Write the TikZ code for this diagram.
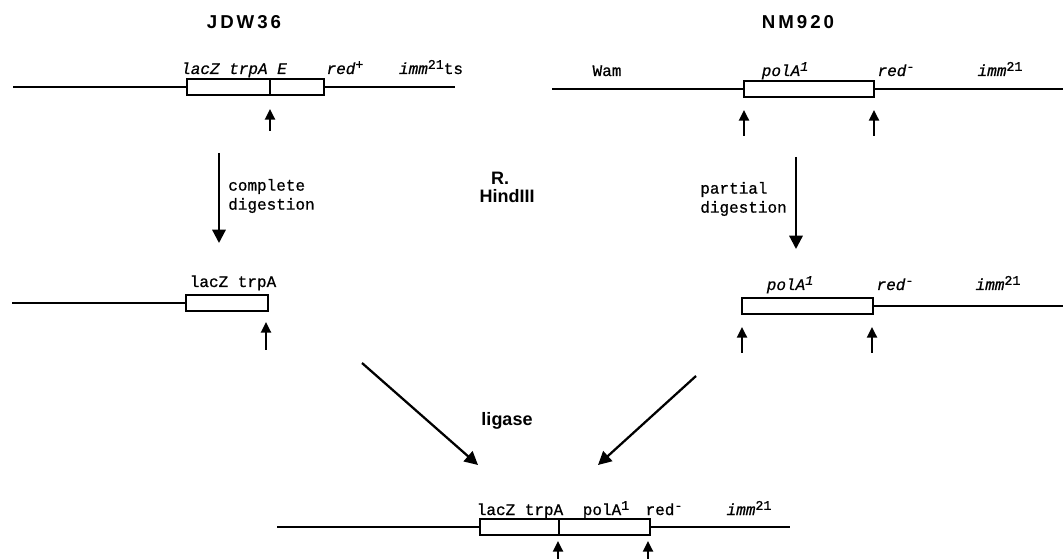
\documentclass[tikz,border=0pt]{standalone}
\usepackage{fontspec}
\setmainfont{Liberation Serif}
\setmonofont[FakeBold=0.8]{Liberation Mono}
\newfontfamily\hsans{Liberation Sans}
\newfontfamily\titlefont[LetterSpace=16]{Liberation Sans}
\newcommand\sups[1]{\raisebox{0.6ex}{\fontsize{10}{10}\selectfont #1}}
\usetikzlibrary{arrows.meta}
\begin{document}
\begin{tikzpicture}[x=0.75pt,y=-0.75pt,
  dna/.style={line width=1.5pt},
  gene/.style={draw,line width=1.6pt,inner sep=0pt,minimum height=12pt},
  cutarrow/.style={line width=1.7pt,-{Triangle[width=7.5pt,length=8pt]}},
  steparrow/.style={line width=1.7pt,-{Triangle[width=10pt,length=10pt]}},
  lab/.style={inner sep=0pt,anchor=base,font=\ttfamily\fontsize{12}{14}\selectfont},
  ilab/.style={inner sep=0pt,anchor=base,font=\ttfamily\itshape\fontsize{12}{14}\selectfont},
  note/.style={inner sep=0pt,font=\ttfamily\fontsize{12}{14.25}\selectfont,align=left},
  ttl/.style={inner sep=0pt,font=\titlefont\bfseries\fontsize{14}{16}\selectfont},
  boldlab/.style={inner sep=0pt,font=\hsans\bfseries\fontsize{13.5}{16}\selectfont}]
\useasboundingbox (0,0) rectangle (1063,559);

% titles
\node[ttl] (t1) at (244,22) {JDW36};
\node[ttl] (t2) at (798,22) {NM920};

% ---------- row 1 left: JDW36 ----------
\node[gene,minimum width=62.25pt] (L1a) at (228.5,87) {};
\node[gene,minimum width=40.5pt] (L1b) at (297,87) {};
\coordinate (L1s) at (13,87);
\coordinate (L1e) at (455,87);
\draw[dna] (L1s) -- (L1a.west);
\draw[dna] (L1b.east) -- (L1e);
\coordinate (k1a) at (270,131);
\coordinate (k1b) at (270,109);
\draw[cutarrow] (k1a) -- (k1b);
\node[ilab] (l1) at (234,74) {lacZ trpA E};
\node[ilab] (l2) at (345,74) {red\sups{+}};
\node[lab] (l3) at (431,74) {\textit{imm}\sups{21}ts};

% ---------- row 1 right: NM920 ----------
\node[gene,minimum width=97.5pt] (R1) at (809,89) {};
\coordinate (R1s) at (552,89);
\coordinate (R1e) at (1063,89);
\draw[dna] (R1s) -- (R1.west);
\draw[dna] (R1.east) -- (R1e);
\coordinate (k2a) at (744,136);
\coordinate (k2b) at (744,110);
\coordinate (k3a) at (874,136);
\coordinate (k3b) at (874,110);
\draw[cutarrow] (k2a) -- (k2b);
\draw[cutarrow] (k3a) -- (k3b);
\node[lab] (r1) at (607,76) {Wam};
\node[ilab] (r2) at (785,76) {polA\sups{1}};
\node[ilab] (r3) at (896,76) {red\sups{-}};
\node[ilab] (r4) at (1000,76) {imm{\upshape\sups{21}}};

% ---------- digestion arrows ----------
\coordinate (d1a) at (219,153);
\coordinate (d1b) at (219,243);
\draw[steparrow] (d1a) -- (d1b);
\node[note,anchor=west] (n1) at (228,196) {complete\\digestion};
\coordinate (d2a) at (796,157);
\coordinate (d2b) at (796,249);
\draw[steparrow] (d2a) -- (d2b);
\node[note,anchor=east] (n2) at (787,199) {partial\\digestion};
\node[boldlab] (h1) at (500,178) {R.};
\node[boldlab] (h2) at (507,196) {HindIII};

% ---------- row 2 left ----------
\node[gene,minimum width=61.5pt] (L2) at (227,303) {};
\coordinate (L2s) at (12,303);
\draw[dna] (L2s) -- (L2.west);
\coordinate (k4a) at (266,350);
\coordinate (k4b) at (266,322);
\draw[cutarrow] (k4a) -- (k4b);
\node[lab] (m1) at (233,287) {lacZ trpA};

% ---------- row 2 right ----------
\node[gene,minimum width=98.25pt] (R2) at (807.5,306) {};
\coordinate (R2e) at (1063,306);
\draw[dna] (R2.east) -- (R2e);
\coordinate (k5a) at (742,353);
\coordinate (k5b) at (742,327);
\coordinate (k6a) at (872,353);
\coordinate (k6b) at (872,327);
\draw[cutarrow] (k5a) -- (k5b);
\draw[cutarrow] (k6a) -- (k6b);
\node[ilab] (s1) at (790,290) {polA\sups{1}};
\node[ilab] (s2) at (895,290) {red\sups{-}};
\node[ilab] (s3) at (998,290) {imm{\upshape\sups{21}}};

% ---------- ligase ----------
\coordinate (g1a) at (362,363);
\coordinate (g1b) at (478,465);
\coordinate (g2a) at (696,376);
\coordinate (g2b) at (598,465);
\draw[steparrow] (g1a) -- (g1b);
\draw[steparrow] (g2a) -- (g2b);
\node[boldlab] (lig) at (507,421) {ligase};

% ---------- bottom ----------
\node[gene,minimum width=59.25pt] (Ba) at (519.5,527) {};
\node[gene,minimum width=68.25pt] (Bb) at (604.5,527) {};
\coordinate (Bs) at (277,527);
\coordinate (Be) at (790,527);
\draw[dna] (Bs) -- (Ba.west);
\draw[dna] (Bb.east) -- (Be);
\coordinate (k7a) at (558,560);
\coordinate (k7b) at (558,541);
\coordinate (k8a) at (648,560);
\coordinate (k8b) at (648,541);
\draw[cutarrow] (k7a) -- (k7b);
\draw[cutarrow] (k8a) -- (k8b);
\node[lab] (b1) at (520,515) {lacZ trpA};
\node[lab] (b2) at (606,515) {polA\sups{1}};
\node[lab] (b3) at (664,515) {red\sups{-}};
\node[ilab] (b4) at (749,515) {imm{\upshape\sups{21}}};
\end{tikzpicture}
\end{document}
